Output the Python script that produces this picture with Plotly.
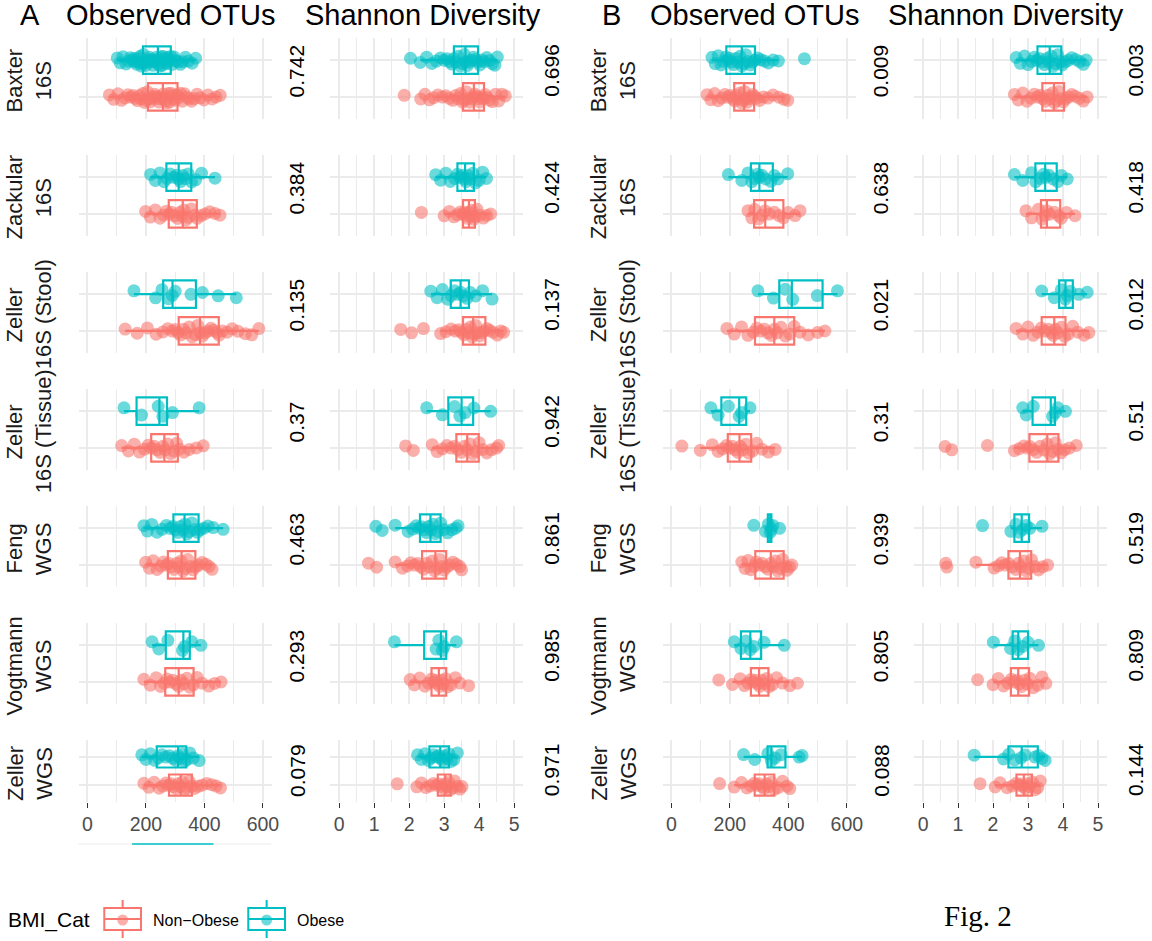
import plotly.graph_objects as go

W, H = 1152, 941

# ---------------------------------------------------------------- data
STUDIES = ["Baxter", "Zackular", "Zeller", "Zeller", "Feng", "Vogtmann", "Zeller"]
PLATFORMS = ["16S", "16S", "16S (Stool)", "16S (Tissue)", "WGS", "WGS", "WGS"]
GROUPS = ["Non-Obese", "Obese"]

# Wilcoxon p-values per study row
P_A_OTU = ["0.742", "0.384", "0.135", "0.37", "0.463", "0.293", "0.079"]
P_A_SHANNON = ["0.696", "0.424", "0.137", "0.942", "0.861", "0.985", "0.971"]
P_B_OTU = ["0.009", "0.638", "0.021", "0.31", "0.939", "0.805", "0.088"]
P_B_SHANNON = ["0.003", "0.418", "0.012", "0.51", "0.519", "0.809", "0.144"]

# Box summaries per study row: (lower whisker, Q1, median, Q3, upper whisker)
A_OTU_OBESE_BOX = [
    (102, 190, 241, 285, 370), (216, 270, 312, 355, 436), (159, 259, 291, 371, 509),
    (125, 168, 246, 272, 382), (193, 294, 332, 380, 464), (221, 268, 328, 350, 388),
    (186, 237, 310, 338, 382),
]
A_OTU_NONOBESE_BOX = [
    (75, 207, 258, 308, 454), (199, 278, 326, 374, 453), (129, 312, 385, 449, 586),
    (117, 218, 263, 309, 396), (199, 275, 322, 369, 426), (193, 266, 312, 363, 457),
    (193, 279, 319, 357, 455),
]
A_SH_OBESE_BOX = [
    (2.32, 3.28, 3.61, 3.97, 4.52), (2.76, 3.38, 3.60, 3.85, 4.21), (2.62, 3.19, 3.47, 3.71, 4.37),
    (2.50, 3.12, 3.50, 3.83, 4.33), (1.60, 2.31, 2.61, 2.90, 3.40), (1.58, 2.43, 2.91, 3.06, 3.35),
    (2.24, 2.58, 2.89, 3.14, 3.38),
]
A_SH_NONOBESE_BOX = [
    (2.70, 3.54, 3.85, 4.14, 4.75), (3.00, 3.54, 3.71, 3.88, 4.33), (2.90, 3.54, 3.83, 4.18, 4.70),
    (2.66, 3.35, 3.66, 3.99, 4.56), (1.60, 2.37, 2.75, 3.06, 3.50), (2.03, 2.64, 2.85, 3.06, 3.45),
    (2.35, 2.82, 3.03, 3.19, 3.51),
]
B_OTU_OBESE_BOX = [
    (139, 188, 241, 286, 366), (195, 272, 301, 347, 398), (296, 369, 412, 517, 568),
    (135, 171, 232, 256, 269), (322, 330, 338, 342, 347), (215, 238, 270, 307, 386),
    (247, 329, 342, 390, 447),
]
B_OTU_NONOBESE_BOX = [
    (122, 215, 249, 283, 385), (262, 283, 321, 383, 440), (190, 286, 352, 420, 525),
    (99, 193, 233, 273, 355), (241, 287, 340, 384, 412), (209, 272, 300, 332, 405),
    (215, 285, 319, 352, 405),
]
B_SH_OBESE_BOX = [
    (2.66, 3.27, 3.62, 3.95, 4.66), (2.61, 3.21, 3.49, 3.82, 4.12), (3.39, 3.89, 4.07, 4.28, 4.69),
    (2.85, 3.13, 3.65, 3.77, 4.07), (2.51, 2.61, 2.82, 3.03, 3.40), (2.01, 2.56, 2.72, 3.00, 3.30),
    (1.46, 2.44, 2.82, 3.28, 3.49),
]
B_SH_NONOBESE_BOX = [
    (2.61, 3.41, 3.74, 4.03, 4.69), (2.94, 3.37, 3.54, 3.92, 4.34), (2.66, 3.39, 3.75, 4.07, 4.74),
    (2.61, 3.04, 3.55, 3.87, 4.38), (1.51, 2.44, 2.77, 3.09, 3.56), (2.00, 2.51, 2.72, 3.03, 3.51),
    (2.06, 2.67, 2.88, 3.11, 3.35),
]

# Per-sample values per study row
A_OTU_OBESE_PTS = [
    [102, 112, 122, 132, 140, 147, 153, 158, 163, 168, 172, 176, 180, 184, 188, 192, 196, 200,
     204, 208, 212, 216, 220, 224, 228, 232, 236, 240, 244, 248, 252, 256, 260, 264, 268, 272,
     276, 280, 285, 290, 296, 302, 310, 318, 326, 335, 345, 358, 370],
    [216, 232, 248, 262, 272, 283, 295, 305, 312, 318, 326, 335, 345, 356, 370, 390, 436],
    [159, 233, 255, 277, 290, 300, 354, 393, 447, 509],
    [125, 185, 242, 258, 291, 382],
    [193, 205, 220, 238, 255, 270, 282, 292, 300, 310, 318, 326, 333, 340, 348, 357, 366, 376,
     386, 398, 412, 430, 464],
    [221, 244, 275, 325, 332, 357, 388],
    [186, 200, 215, 230, 242, 255, 268, 280, 292, 302, 310, 318, 325, 332, 340, 350, 362, 382],
]
A_OTU_NONOBESE_PTS = [
    [75, 90, 104, 116, 128, 138, 148, 156, 164, 171, 178, 184, 190, 195, 200, 205, 210, 215, 220,
     225, 230, 235, 240, 245, 250, 255, 259, 263, 267, 271, 276, 281, 286, 291, 296, 301, 306,
     312, 318, 325, 332, 340, 348, 356, 365, 375, 386, 398, 412, 426, 440, 454],
    [199, 215, 232, 248, 260, 270, 279, 288, 298, 308, 316, 323, 330, 337, 345, 355, 365, 375,
     388, 402, 418, 436, 453],
    [129, 170, 205, 235, 258, 275, 290, 300, 310, 318, 328, 338, 348, 358, 368, 377, 385, 393,
     402, 412, 422, 432, 442, 450, 462, 478, 495, 515, 540, 562, 586],
    [117, 140, 160, 178, 195, 208, 218, 228, 238, 248, 258, 266, 275, 285, 295, 305, 315, 330,
     348, 372, 396],
    [199, 212, 225, 238, 250, 260, 270, 278, 287, 296, 305, 313, 320, 327, 335, 343, 352, 361,
     370, 380, 392, 405, 416, 426],
    [193, 215, 235, 250, 262, 272, 282, 292, 302, 312, 320, 330, 340, 350, 362, 375, 392, 415,
     435, 457],
    [193, 210, 228, 245, 258, 268, 278, 286, 294, 302, 310, 318, 325, 332, 340, 348, 356, 366,
     378, 392, 408, 425, 440, 455],
]
A_SH_OBESE_PTS = [
    [2.04, 2.32, 2.5, 2.65, 2.78, 2.9, 3.0, 3.08, 3.15, 3.22, 3.28, 3.34, 3.4, 3.46, 3.52, 3.58,
     3.62, 3.67, 3.72, 3.78, 3.84, 3.9, 3.96, 4.02, 4.08, 4.15, 4.22, 4.3, 4.38, 4.45, 4.52],
    [2.76, 2.9, 3.05, 3.18, 3.3, 3.38, 3.45, 3.52, 3.58, 3.62, 3.68, 3.75, 3.82, 3.9, 4.0, 4.1, 4.21],
    [2.62, 2.8, 2.95, 3.1, 3.2, 3.3, 3.4, 3.47, 3.55, 3.65, 3.75, 3.9, 4.1, 4.37],
    [2.5, 2.95, 3.3, 3.45, 3.6, 3.85, 4.33],
    [1.05, 1.23, 1.6, 1.97, 2.1, 2.2, 2.28, 2.35, 2.42, 2.5, 2.56, 2.62, 2.68, 2.75, 2.82, 2.9,
     3.0, 3.1, 3.22, 3.33, 3.4],
    [1.58, 2.77, 2.85, 2.95, 3.0, 3.35],
    [2.24, 2.35, 2.45, 2.55, 2.62, 2.7, 2.78, 2.85, 2.9, 2.96, 3.02, 3.08, 3.14, 3.2, 3.28, 3.38],
]
A_SH_NONOBESE_PTS = [
    [1.86, 2.33, 2.45, 2.58, 2.7, 2.82, 2.95, 3.05, 3.15, 3.25, 3.33, 3.4, 3.47, 3.53, 3.58, 3.63,
     3.68, 3.73, 3.78, 3.83, 3.87, 3.92, 3.97, 4.02, 4.07, 4.12, 4.17, 4.23, 4.3, 4.38, 4.47,
     4.56, 4.65, 4.75],
    [2.35, 3.0, 3.15, 3.28, 3.38, 3.46, 3.53, 3.58, 3.63, 3.67, 3.71, 3.75, 3.79, 3.84, 3.88,
     3.94, 4.02, 4.12, 4.22, 4.33],
    [1.76, 2.07, 2.41, 2.9, 3.05, 3.2, 3.32, 3.42, 3.5, 3.57, 3.63, 3.69, 3.75, 3.8, 3.85, 3.9,
     3.96, 4.02, 4.08, 4.15, 4.22, 4.3, 4.4, 4.52, 4.62, 4.7],
    [1.9, 2.12, 2.66, 2.8, 2.95, 3.08, 3.2, 3.3, 3.4, 3.5, 3.58, 3.66, 3.74, 3.82, 3.9, 4.0, 4.1,
     4.22, 4.35, 4.5, 4.56],
    [0.84, 1.07, 1.6, 1.81, 1.95, 2.05, 2.15, 2.25, 2.33, 2.42, 2.5, 2.58, 2.66, 2.73, 2.8, 2.87,
     2.94, 3.0, 3.08, 3.16, 3.25, 3.35, 3.45, 3.5],
    [2.03, 2.15, 2.3, 2.45, 2.55, 2.64, 2.7, 2.76, 2.82, 2.87, 2.92, 2.98, 3.04, 3.1, 3.2, 3.32,
     3.45, 3.7],
    [1.66, 2.22, 2.35, 2.48, 2.6, 2.7, 2.78, 2.85, 2.92, 2.98, 3.03, 3.08, 3.13, 3.18, 3.24, 3.3,
     3.38, 3.45, 3.51],
]
B_OTU_OBESE_PTS = [
    [139, 150, 160, 170, 178, 186, 192, 198, 205, 212, 220, 228, 235, 241, 248, 255, 262, 270,
     278, 286, 295, 305, 318, 332, 348, 366, 455],
    [195, 241, 262, 275, 285, 295, 301, 310, 322, 340, 352, 365, 398],
    [296, 349, 389, 415, 499, 568],
    [135, 160, 195, 232, 240, 269],
    [282, 322, 332, 338, 342, 347, 370],
    [215, 238, 255, 270, 282, 317, 386],
    [247, 285, 330, 342, 355, 375, 437, 447],
]
B_OTU_NONOBESE_PTS = [
    [122, 135, 148, 160, 172, 183, 193, 202, 210, 216, 222, 228, 234, 240, 246, 250, 255, 260,
     266, 272, 278, 284, 292, 302, 315, 330, 348, 368, 385, 398],
    [262, 275, 285, 298, 310, 321, 335, 352, 368, 383, 400, 423, 440],
    [190, 215, 240, 262, 280, 292, 305, 318, 330, 342, 352, 362, 375, 390, 405, 420, 440, 468,
     500, 525],
    [36, 99, 140, 160, 175, 188, 198, 208, 218, 228, 236, 245, 255, 265, 278, 292, 310, 332, 355],
    [241, 252, 262, 272, 282, 290, 300, 310, 320, 330, 340, 348, 356, 364, 372, 380, 388, 396,
     404, 412],
    [162, 209, 235, 250, 262, 272, 280, 288, 296, 302, 310, 318, 326, 334, 345, 360, 380, 405, 431],
    [165, 215, 240, 258, 272, 284, 292, 300, 310, 318, 326, 334, 342, 352, 365, 380, 395, 405],
]
B_SH_OBESE_PTS = [
    [2.66, 2.78, 2.9, 3.0, 3.1, 3.18, 3.25, 3.32, 3.4, 3.47, 3.54, 3.6, 3.66, 3.72, 3.78, 3.85,
     3.92, 3.98, 4.06, 4.15, 4.25, 4.36, 4.48, 4.58, 4.66],
    [2.61, 2.85, 3.1, 3.22, 3.35, 3.45, 3.5, 3.6, 3.72, 3.85, 3.95, 4.12],
    [3.39, 3.75, 3.95, 4.07, 4.12, 4.2, 4.45, 4.69],
    [2.85, 2.95, 3.15, 3.7, 3.78, 3.85, 4.07],
    [1.7, 2.51, 2.65, 2.75, 2.85, 2.95, 3.05, 3.4],
    [2.01, 2.5, 2.62, 2.72, 2.85, 3.0, 3.3],
    [1.46, 2.3, 2.45, 2.62, 2.8, 2.92, 3.2, 3.3, 3.4, 3.49],
]
B_SH_NONOBESE_PTS = [
    [2.61, 2.72, 2.85, 2.97, 3.08, 3.18, 3.27, 3.35, 3.42, 3.5, 3.57, 3.63, 3.7, 3.76, 3.82, 3.88,
     3.95, 4.01, 4.08, 4.16, 4.25, 4.35, 4.47, 4.58, 4.69],
    [2.94, 3.1, 3.3, 3.4, 3.48, 3.54, 3.62, 3.75, 3.88, 3.95, 4.1, 4.34],
    [2.66, 2.85, 3.0, 3.15, 3.28, 3.38, 3.48, 3.58, 3.66, 3.72, 3.78, 3.85, 3.95, 4.05, 4.15,
     4.28, 4.42, 4.6, 4.74],
    [0.63, 0.82, 1.84, 2.61, 2.75, 2.88, 2.98, 3.06, 3.15, 3.25, 3.35, 3.45, 3.55, 3.62, 3.7,
     3.78, 3.86, 3.95, 4.05, 4.18, 4.38],
    [0.65, 0.68, 1.51, 2.03, 2.15, 2.25, 2.35, 2.45, 2.55, 2.65, 2.73, 2.8, 2.88, 2.95, 3.02, 3.1,
     3.2, 3.3, 3.42, 3.56],
    [1.56, 2.0, 2.15, 2.3, 2.42, 2.52, 2.6, 2.68, 2.75, 2.82, 2.9, 2.98, 3.05, 3.15, 3.28, 3.4, 3.51],
    [1.63, 2.06, 2.2, 2.4, 2.55, 2.66, 2.74, 2.8, 2.86, 2.92, 2.98, 3.05, 3.12, 3.2, 3.28, 3.35],
]

# ---------------------------------------------------------------- style
FONT = "Liberation Sans, Arial, Helvetica, sans-serif"
GRID = "#EBEBEB"
COLORS = {"Non-Obese": "#F8766D", "Obese": "#00BFC4"}
FILLS = {"Non-Obese": "rgba(248,118,109,0.58)", "Obese": "rgba(0,191,196,0.58)"}

# panel geometry in pixels
COL_LEFT = [79.2, 332.7, 667.2, 920.7]
COL_WIDTH = [194.4, 193.8, 194.4, 193.8]
ROW_TOP = [38, 155, 272, 389, 506, 623, 740]
ROW_HEIGHT = [81, 81, 81, 81, 81, 81, 62]

COLUMNS = [
    dict(obese=A_OTU_OBESE_PTS, non=A_OTU_NONOBESE_PTS, obox=A_OTU_OBESE_BOX,
         nbox=A_OTU_NONOBESE_BOX, p=P_A_OTU, rng=[-30, 630], dtick=200, minor=100, px=299),
    dict(obese=A_SH_OBESE_PTS, non=A_SH_NONOBESE_PTS, obox=A_SH_OBESE_BOX,
         nbox=A_SH_NONOBESE_BOX, p=P_A_SHANNON, rng=[-0.25, 5.25], dtick=1, minor=0.5, px=555),
    dict(obese=B_OTU_OBESE_PTS, non=B_OTU_NONOBESE_PTS, obox=B_OTU_OBESE_BOX,
         nbox=B_OTU_NONOBESE_BOX, p=P_B_OTU, rng=[-30, 630], dtick=200, minor=100, px=887),
    dict(obese=B_SH_OBESE_PTS, non=B_SH_NONOBESE_PTS, obox=B_SH_OBESE_BOX,
         nbox=B_SH_NONOBESE_BOX, p=P_B_SHANNON, rng=[-0.25, 5.25], dtick=1, minor=0.5, px=1143),
]


def fx(px):
    return px / W


def fy(py):
    return 1 - py / H


fig = go.Figure()
layout = {}
annotations = []

for c, col in enumerate(COLUMNS):
    for r in range(7):
        k = c * 7 + r + 1
        xa = "x" if k == 1 else f"x{k}"
        ya = "y" if k == 1 else f"y{k}"
        for grp, pts, box in (("Obese", col["obese"][r], col["obox"][r]),
                              ("Non-Obese", col["non"][r], col["nbox"][r])):
            # jittered samples
            fig.add_trace(go.Box(
                x=pts, y=[grp] * len(pts), orientation="h", boxpoints="all",
                jitter=0.45, pointpos=0, width=0.75, whiskerwidth=0,
                fillcolor="rgba(0,0,0,0)", line=dict(width=0, color=COLORS[grp]),
                marker=dict(color=FILLS[grp], size=13, line=dict(width=0)),
                showlegend=False, hoverinfo="x", xaxis=xa, yaxis=ya))
            lo, q1, med, q3, hi = box
            # box and whiskers on top of the samples
            fig.add_trace(go.Box(
                y=[grp], q1=[q1], median=[med], q3=[q3], lowerfence=[lo], upperfence=[hi],
                orientation="h", boxpoints=False, width=0.75, whiskerwidth=0,
                fillcolor="rgba(0,0,0,0)", line=dict(width=2.2, color=COLORS[grp]),
                showlegend=False, xaxis=xa, yaxis=ya))

        x0 = COL_LEFT[c]
        y0 = ROW_TOP[r]
        bottom = r == 6
        layout["xaxis" if k == 1 else f"xaxis{k}"] = dict(
            domain=[fx(x0), fx(x0 + COL_WIDTH[c])], anchor=ya, range=col["rng"],
            tick0=0, dtick=col["dtick"], showgrid=True, gridcolor=GRID, gridwidth=2,
            minor=dict(tick0=0, dtick=col["minor"], showgrid=True, gridcolor=GRID, gridwidth=1.4),
            zeroline=False, showline=False, showticklabels=bottom,
            ticks="outside" if bottom else "", ticklen=5, tickwidth=1, tickcolor="#333333",
            tickfont=dict(family=FONT, size=19.5, color="#4D4D4D"), fixedrange=True)
        layout["yaxis" if k == 1 else f"yaxis{k}"] = dict(
            domain=[fy(y0 + ROW_HEIGHT[r]), fy(y0)], anchor=xa, type="category",
            categoryorder="array", categoryarray=GROUPS, range=[-0.6, 1.6],
            showgrid=True, gridcolor=GRID, gridwidth=2, showticklabels=False,
            zeroline=False, showline=False, ticks="", fixedrange=True)

        # p-value beside each panel
        pc = y0 + ROW_HEIGHT[r] / 2 - (8 if r < 6 else 1)
        annotations.append(dict(
            x=fx(col["px"]), y=fy(pc), xref="paper", yref="paper", text=col["p"][r],
            textangle=-90, showarrow=False, xanchor="center", yanchor="middle",
            font=dict(family=FONT, size=21, color="black")))

# row labels on the left of each half
for off in (0, 588):
    for r in range(7):
        yc = ROW_TOP[r] + ROW_HEIGHT[r] / 2 + 2
        for xpx, txt in ((15 + off, STUDIES[r]), (44 + off, PLATFORMS[r])):
            annotations.append(dict(
                x=fx(xpx), y=fy(yc), xref="paper", yref="paper", text=txt, textangle=-90,
                showarrow=False, xanchor="center", yanchor="middle",
                font=dict(family=FONT, size=22, color="#1A1A1A")))

# column titles
for xpx, txt in ((30, "A"), (172.5, "Observed OTUs"), (425.5, "Shannon Diversity"),
                 (616, "B"), (760, "Observed OTUs"), (1013.5, "Shannon Diversity")):
    annotations.append(dict(
        x=fx(xpx), y=fy(15), xref="paper", yref="paper", text=txt, showarrow=False,
        xanchor="center", yanchor="middle", font=dict(family=FONT, size=29, color="black")))

# legend
annotations.append(dict(x=fx(6), y=fy(920), xref="paper", yref="paper", text="BMI_Cat",
                        showarrow=False, xanchor="left", yanchor="middle",
                        font=dict(family=FONT, size=21, color="black")))
shapes = []
for kx, tx, grp, label in ((105, 152, "Non-Obese", "Non\u2212Obese"), (250, 297, "Obese", "Obese")):
    colr = COLORS[grp]
    cx = kx + 18.5
    shapes += [
        dict(type="line", xref="paper", yref="paper", x0=fx(cx), x1=fx(cx), y0=fy(900), y1=fy(908),
             line=dict(color=colr, width=2)),
        dict(type="line", xref="paper", yref="paper", x0=fx(cx), x1=fx(cx), y0=fy(930), y1=fy(938),
             line=dict(color=colr, width=2)),
        dict(type="circle", xref="paper", yref="paper", x0=fx(cx - 5.5), x1=fx(cx + 5.5),
             y0=fy(925.5), y1=fy(914.5), fillcolor=FILLS[grp], line=dict(width=0)),
        dict(type="rect", xref="paper", yref="paper", x0=fx(kx), x1=fx(kx + 37), y0=fy(930),
             y1=fy(908), line=dict(color=colr, width=2), fillcolor="rgba(0,0,0,0)"),
        dict(type="line", xref="paper", yref="paper", x0=fx(kx), x1=fx(kx + 37), y0=fy(919),
             y1=fy(919), line=dict(color=colr, width=2)),
    ]
    annotations.append(dict(x=fx(tx), y=fy(920), xref="paper", yref="paper", text=label,
                            showarrow=False, xanchor="left", yanchor="middle",
                            font=dict(family=FONT, size=16, color="black")))

# thin strip under the first axis
shapes += [
    dict(type="line", xref="paper", yref="paper", x0=fx(79), x1=fx(273), y0=fy(844), y1=fy(844),
         line=dict(color=GRID, width=1)),
    dict(type="line", xref="paper", yref="paper", x0=fx(133), x1=fx(215), y0=fy(844), y1=fy(844),
         line=dict(color="#00BFC4", width=1.5)),
]

annotations.append(dict(x=fx(985), y=fy(916), xref="paper", yref="paper", text="Fig. 2",
                        showarrow=False, xanchor="center", yanchor="middle",
                        font=dict(family="Liberation Serif, Times New Roman, serif", size=29,
                                  color="black")))

fig.update_layout(
    width=W, height=H, autosize=False, margin=dict(l=0, r=0, t=0, b=0),
    paper_bgcolor="white", plot_bgcolor="white", boxmode="overlay", showlegend=False,
    annotations=annotations, shapes=shapes, font=dict(family=FONT), **layout)

fig.write_html("out.html")
